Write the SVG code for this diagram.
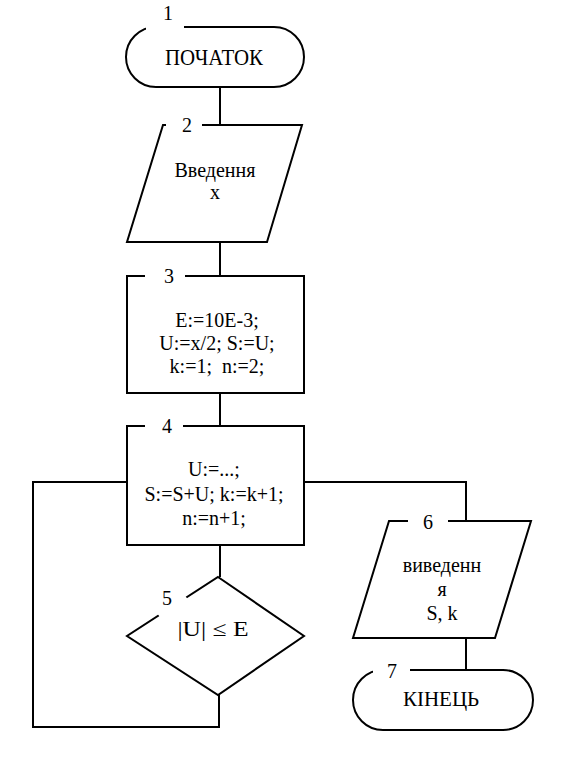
<svg xmlns="http://www.w3.org/2000/svg" width="563" height="776" viewBox="0 0 563 776">
<style>
.s{fill:none;stroke:#000;stroke-width:2}
.m{fill:#fff;stroke:none}
.t{font-family:"Liberation Serif","Times New Roman",serif;font-size:20px;fill:#000;text-anchor:middle}
.n{font-family:"Liberation Serif","Times New Roman",serif;font-size:20px;fill:#000;text-anchor:middle}
</style>
<rect width="563" height="776" fill="#fff"/>
<g id="connectors">
<path class="s" d="M220 87V125"/>
<path class="s" d="M220 242V276"/>
<path class="s" d="M220 393V426"/>
<path class="s" d="M220 545V577"/>
<path class="s" d="M219 695V727H33V482H127"/>
<path class="s" d="M304 482H466V521"/>
<path class="s" d="M466 638V670"/>
</g>
<g id="node1">
<rect class="s" x="126" y="27" width="178" height="60" rx="30"/>
<rect class="m" x="146" y="18" width="38" height="15"/>
<text class="n" x="168" y="20">1</text>
<text class="t" x="214" y="65" style="font-size:24px" textLength="98" lengthAdjust="spacingAndGlyphs">ПОЧАТОК</text>
</g>
<g id="node2">
<polygon class="s" points="163,125 302,125 267,242 127,242"/>
<rect class="m" x="166" y="117" width="36" height="14"/>
<text class="n" x="187" y="132">2</text>
<text class="t" x="215" y="177">Введення</text>
<text class="t" x="215" y="199">x</text>
</g>
<g id="node3">
<rect class="s" x="127" y="276" width="177" height="117"/>
<rect class="m" x="145" y="268" width="40" height="14"/>
<text class="n" x="169" y="283">3</text>
<text class="t" x="217" y="327">E:=10E-3;</text>
<text class="t" x="217" y="350">U:=x/2; S:=U;</text>
<text class="t" x="217" y="373" style="white-space:pre">k:=1;  n:=2;</text>
</g>
<g id="node4">
<rect class="s" x="127" y="426" width="177" height="119"/>
<rect class="m" x="145" y="418" width="38" height="14"/>
<text class="n" x="167" y="433">4</text>
<text class="t" x="214" y="476">U:=...;</text>
<text class="t" x="214" y="501">S:=S+U; k:=k+1;</text>
<text class="t" x="214" y="525">n:=n+1;</text>
</g>
<g id="node5">
<polygon class="s" points="218,577 304,636 218,695 127,636"/>
<polygon class="m" points="156,612 182,592 190,602 164,622"/>
<text class="n" x="167" y="605">5</text>
<text class="t" x="213" y="636" style="font-size:21px" textLength="71" lengthAdjust="spacingAndGlyphs">|U| ≤ E</text>
</g>
<g id="node6">
<polygon class="s" points="389,521 531,521 495,638 353,638"/>
<rect class="m" x="408" y="513" width="40" height="14"/>
<text class="n" x="428" y="529">6</text>
<text class="t" x="442" y="572">виведенн</text>
<text class="t" x="442" y="596">я</text>
<text class="t" x="442" y="620">S, k</text>
</g>
<g id="node7">
<rect class="s" x="353" y="670" width="180" height="60" rx="30"/>
<rect class="m" x="373" y="662" width="37" height="14"/>
<text class="n" x="392" y="678">7</text>
<text class="t" x="441" y="706" style="font-size:21px">КІНЕЦЬ</text>
</g>
</svg>
